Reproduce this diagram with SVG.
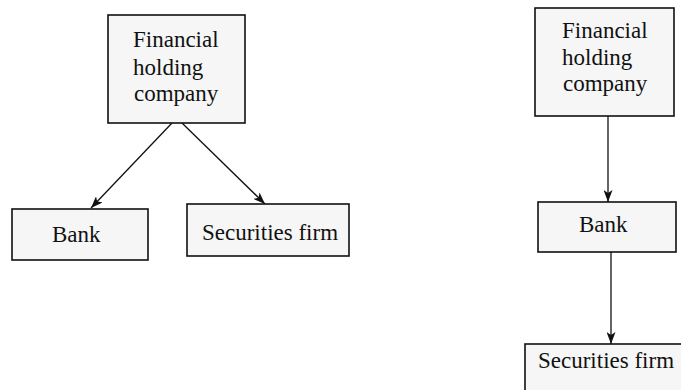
<svg xmlns="http://www.w3.org/2000/svg" width="681" height="390" viewBox="0 0 681 390">
<style>
.box{fill:#f6f6f6;stroke:#111;stroke-width:1.6}
.t{font-family:"Liberation Serif","Times New Roman",serif;font-size:23px;fill:#111}
.c{stroke:#111;stroke-width:1.3;fill:none;marker-end:url(#ah)}
</style>
<defs>
<marker id="ah" viewBox="0 0 12 9" refX="12" refY="4.5" markerWidth="12" markerHeight="9" markerUnits="userSpaceOnUse" orient="auto">
<path d="M0,0 L12,4.5 L0,9 L3,4.5 Z" fill="#111"/>
</marker>
</defs>
<rect width="681" height="390" fill="#fff"/>
<g id="connectors">
<line class="c" x1="172" y1="123" x2="91" y2="208"/>
<line class="c" x1="182" y1="123" x2="265" y2="204"/>
<line class="c" x1="608" y1="116" x2="608" y2="202"/>
<line class="c" x1="611" y1="252" x2="611" y2="344"/>
</g>
<g id="fhc-left">
<rect class="box" x="108" y="15" width="137" height="108"/>
<text class="t" x="133" y="47">Financial</text>
<text class="t" x="133" y="75">holding</text>
<text class="t" x="134" y="101">company</text>
</g>
<g id="bank-left">
<rect class="box" x="12" y="209" width="136" height="51"/>
<text class="t" x="52" y="242">Bank</text>
</g>
<g id="securities-left">
<rect class="box" x="187" y="204" width="162" height="52"/>
<text class="t" x="202" y="240">Securities firm</text>
</g>
<g id="fhc-right">
<rect class="box" x="535" y="8" width="139" height="108"/>
<text class="t" x="562" y="38">Financial</text>
<text class="t" x="562" y="65">holding</text>
<text class="t" x="563" y="91">company</text>
</g>
<g id="bank-right">
<rect class="box" x="538" y="202" width="138" height="50"/>
<text class="t" x="579" y="232">Bank</text>
</g>
<g id="securities-right">
<rect class="box" x="525" y="344" width="170" height="60"/>
<text class="t" x="538" y="368">Securities firm</text>
</g>
</svg>
